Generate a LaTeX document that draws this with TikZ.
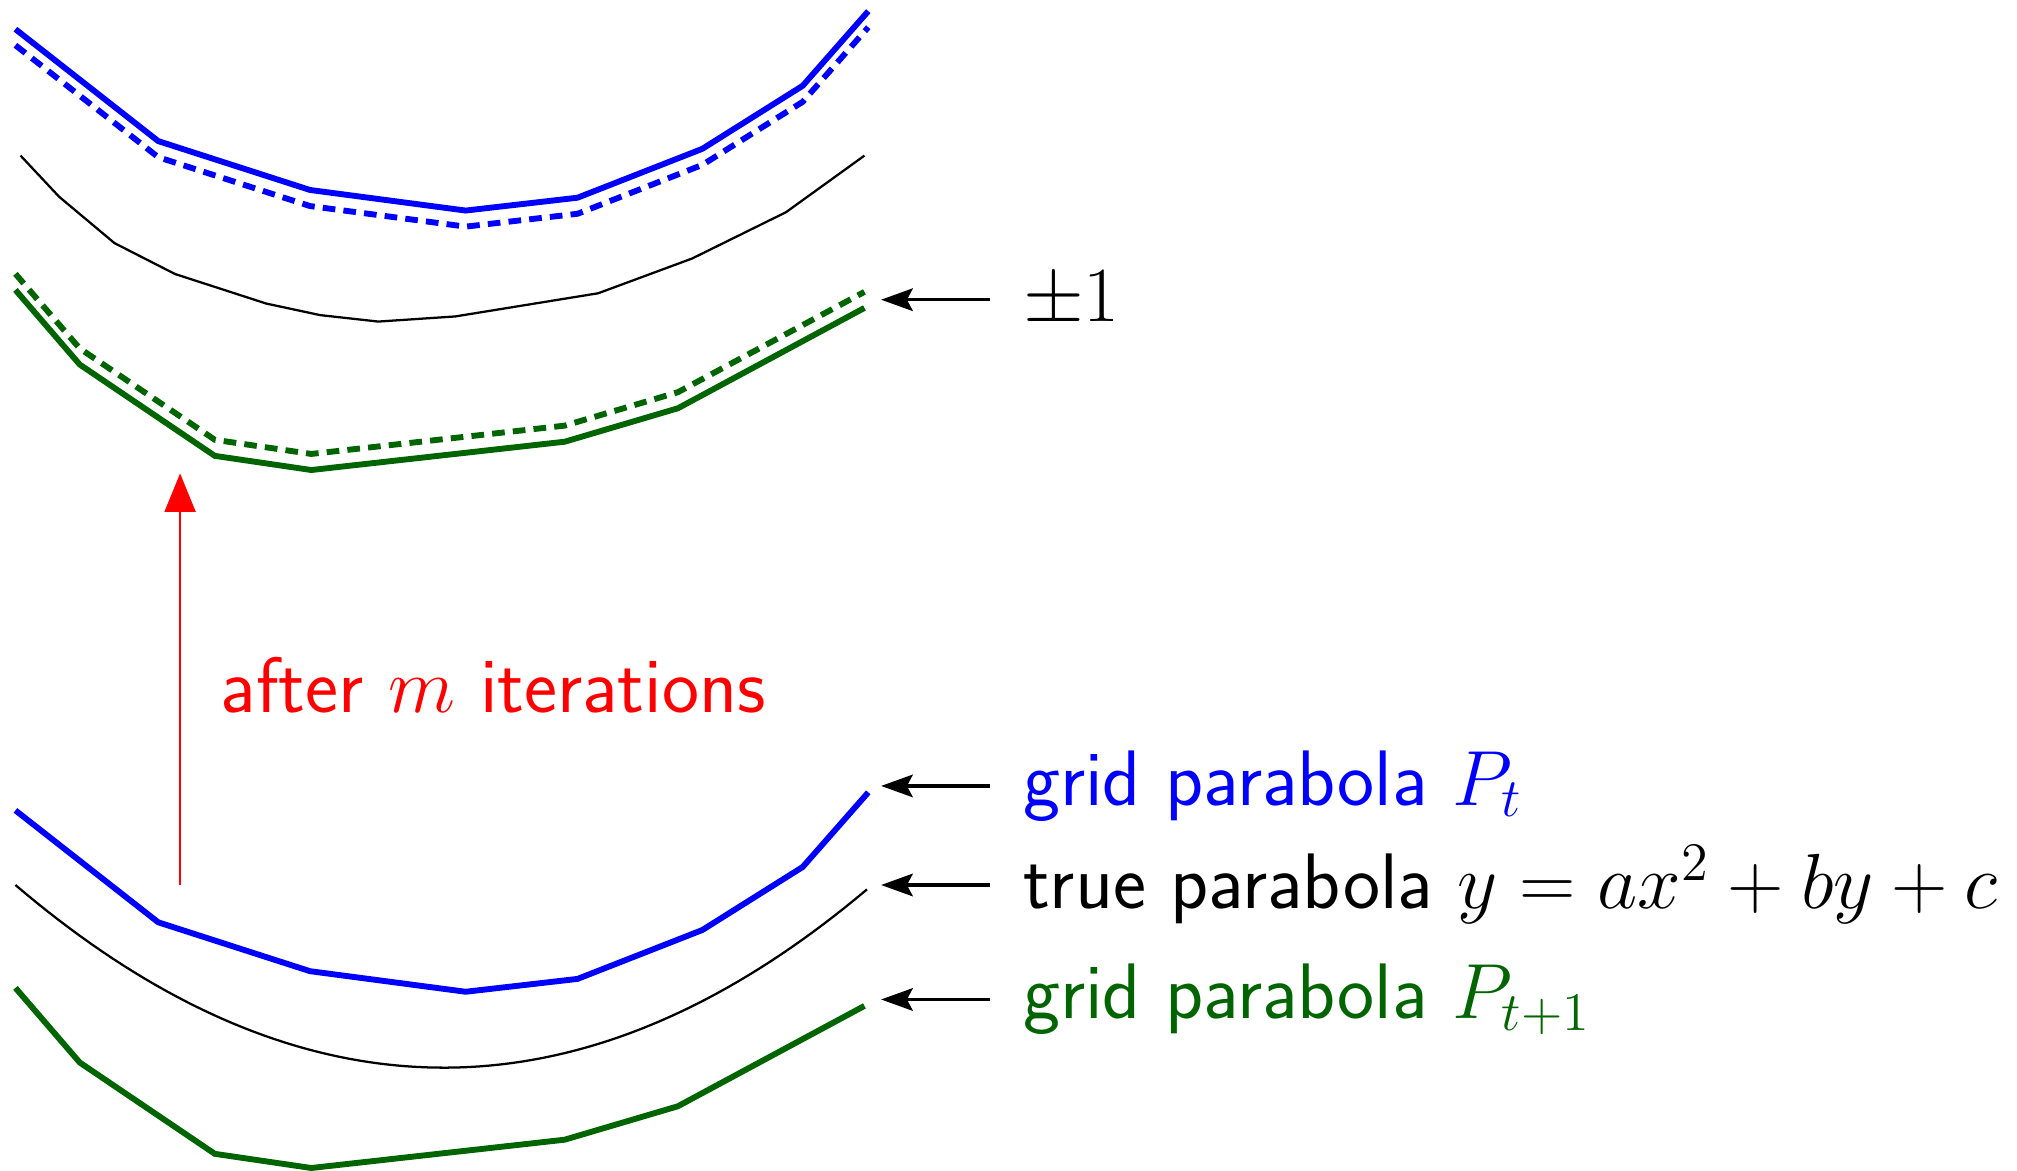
\documentclass[tikz,border=0pt]{standalone}
\usepackage{amsmath}
\usepackage{tikz}
\usetikzlibrary{arrows.meta, positioning, calc}

\definecolor{gridgreen}{RGB}{0,100,0}

% grid parabolas, bottom copies
\newcommand{\bluepath}{(12,630) -- (123,717) -- (241,755) -- (362,771) -- (449,761) -- (546,723) -- (624,674) -- (675,616)}
\newcommand{\greenpath}{(12,768) -- (62,826) -- (167,897) -- (242,908) -- (439,886) -- (527,860) -- (672,782)}

\begin{document}
\begin{tikzpicture}[x=0.01cm, y=-0.01cm,
    gridP/.style={blue, line width=1.3pt},
    gridQ/.style={gridgreen, line width=1.3pt},
    offby/.style={dash pattern=on 2.8pt off 1.8pt},
    truep/.style={black, line width=0.5pt},
    lbl/.style={anchor=west, inner xsep=7pt, inner ysep=0pt, font=\sffamily\fontsize{17.4}{20}\selectfont},
    pointer/.style={-{Stealth[length=7pt, width=5pt, inset=1.3pt]}, line width=0.7pt}]
  \useasboundingbox (0,0) rectangle (1568,910);

  % Top: after m iterations
  \draw[gridP, shift={(0,-607.3)}] \bluepath;
  \draw[gridP, offby, shift={(0,-594.8)}] \bluepath;
  \draw[truep] (16,121) -- (46,153) -- (89,189) -- (136,213) -- (207,236) -- (249,245)
    -- (294,250) -- (354,246) -- (465,228) -- (538,201) -- (611,165) -- (672,121);
  \draw[gridQ, offby, shift={(0,-555.1)}] \greenpath;
  \draw[gridQ, shift={(0,-542.6)}] \greenpath;

  % Bottom: start
  \draw[gridP] \bluepath;
  \draw[truep] plot[domain=12:674, samples=80] (\x, {830-142*((\x-345)/333)^2});
  \draw[gridQ] \greenpath;

  % Labels
  \coordinate (tipPm) at (685,233);
  \coordinate (tipPt) at (685,611);
  \coordinate (tipTrue) at (685,688);
  \coordinate (tipPq) at (685,777);
  \node[lbl] (lblPm) at (770,233) {$\pm1$};
  \node[lbl, blue] (lblPt) at (770,611) {grid parabola $P_t$};
  \node[lbl] (lblTrue) at (770,688) {true parabola $y = ax^2 + by + c$};
  \node[lbl, gridgreen] (lblPq) at (770,777) {grid parabola $P_{t+1}$};
  \draw[pointer] (lblPm.west) -- (tipPm);
  \draw[pointer] (lblPt.west) -- (tipPt);
  \draw[pointer] (lblTrue.west) -- (tipTrue);
  \draw[pointer] (lblPq.west) -- (tipPq);

  % Iterations
  \coordinate (itFrom) at (140,688);
  \coordinate (itTo) at (140,368);
  \draw[red, line width=0.55pt, -{Triangle[length=8.5pt, width=6.8pt]}] (itFrom) -- (itTo);
  \node[lbl, red, inner xsep=0pt] (lblIter) at (171,533) {after $m$ iterations};
\end{tikzpicture}
\end{document}
